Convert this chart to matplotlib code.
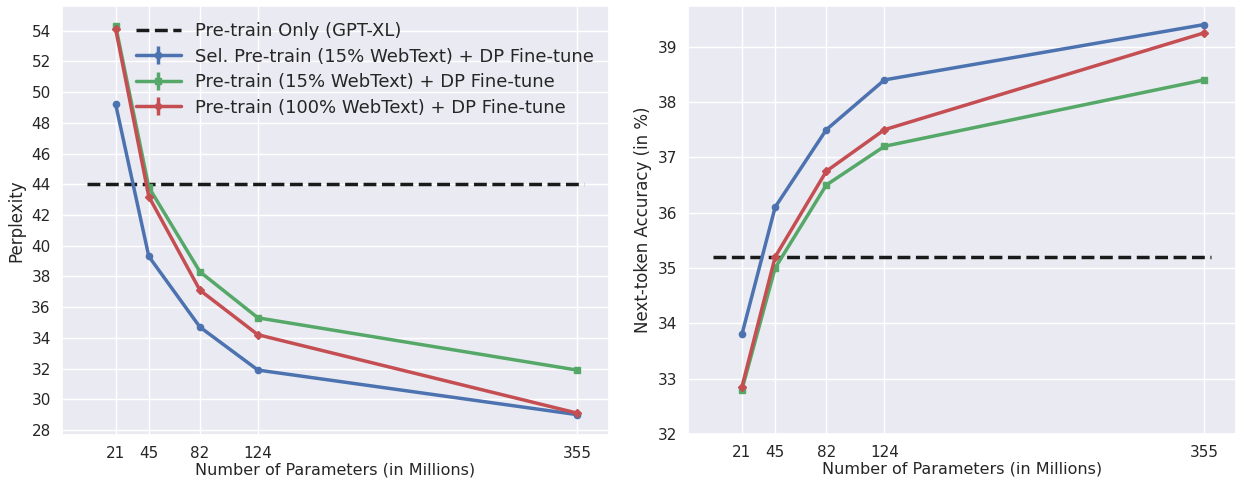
import matplotlib
matplotlib.use('Agg')
import matplotlib.pyplot as plt
import seaborn as sns

sns.set_theme(style='darkgrid', palette='deep')
plt.rcParams['font.family'] = ['DejaVu Sans']

params = [21, 45, 82, 124, 355]
zero_err = [0, 0, 0, 0, 0]

# perplexity (left)
ppl_sel = [49.2, 39.3, 34.7, 31.9, 29.0]
ppl_15 = [54.3, 43.8, 38.3, 35.3, 31.9]
ppl_100 = [54.1, 43.2, 37.1, 34.2, 29.1]
ppl_pretrain_only = 44.0

# next-token accuracy (right)
acc_sel = [33.8, 36.1, 37.5, 38.4, 39.4]
acc_15 = [32.8, 35.0, 36.5, 37.2, 38.4]
acc_100 = [32.85, 35.2, 36.75, 37.5, 39.25]
acc_pretrain_only = 35.2

labels = ['Sel. Pre-train (15% WebText) + DP Fine-tune',
          'Pre-train (15% WebText) + DP Fine-tune',
          'Pre-train (100% WebText) + DP Fine-tune']
colors = sns.color_palette('deep')
blue, green, red = colors[0], colors[2], colors[3]

fig = plt.figure(figsize=(12.36, 4.8), dpi=100)
ax1 = fig.add_axes([0.050, 0.094, 0.4425, 0.894])
ax2 = fig.add_axes([0.5566, 0.096, 0.4434, 0.892])


def draw(ax, sel, p15, p100, base, legend):
    ax.plot([0, 360], [base, base], 'k--', lw=2.5, label='Pre-train Only (GPT-XL)')
    ax.errorbar(params, sel, yerr=zero_err, color=blue, marker='o', ms=4.5, lw=2.5, label=labels[0])
    ax.errorbar(params, p15, yerr=zero_err, color=green, marker='s', ms=4.5, lw=2.5, label=labels[1])
    ax.errorbar(params, p100, yerr=zero_err, color=red, marker='D', ms=4.5, lw=2.5, label=labels[2])
    ax.set_xticks(params)
    ax.set_xlim(-18, 378)
    ax.set_xlabel('Number of Parameters (in Millions)', fontsize=11.5, labelpad=1)
    ax.tick_params(labelsize=11, pad=2)
    if legend:
        ax.legend(loc='upper right', fontsize=13, frameon=False,
                  handlelength=2.5, labelspacing=0.42, borderaxespad=0.5,
                  bbox_to_anchor=(1.003, 1.0))


draw(ax1, ppl_sel, ppl_15, ppl_100, ppl_pretrain_only, True)
ax1.set_yticks(range(28, 55, 2))
ax1.set_ylim(27.68, 55.62)
ax1.set_ylabel('Perplexity', fontsize=12)

draw(ax2, acc_sel, acc_15, acc_100, acc_pretrain_only, False)
ax2.set_yticks(range(32, 40))
ax2.set_ylim(32.0, 39.74)
ax2.set_ylabel('Next-token Accuracy (in %)', fontsize=12)

fig.savefig('out.png', dpi=100)
